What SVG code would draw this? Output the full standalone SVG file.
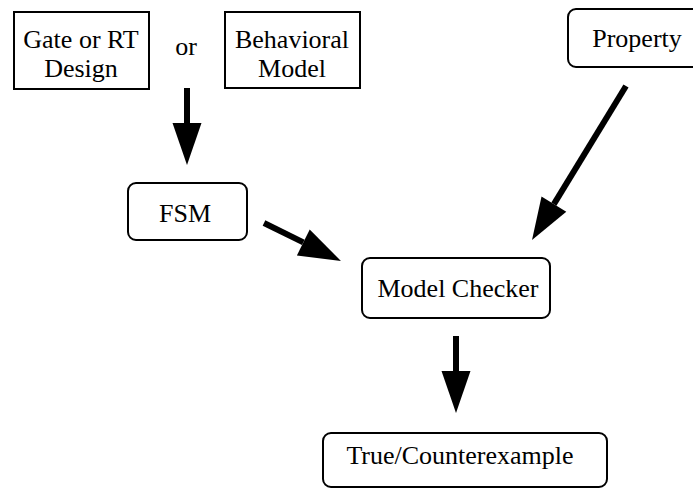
<svg xmlns="http://www.w3.org/2000/svg" width="693" height="489" viewBox="0 0 693 489">
  <style>
    .box { fill: #ffffff; stroke: #000000; stroke-width: 2; }
    .label { font-family: "Liberation Serif", "Times New Roman", serif; font-size: 26px; fill: #000000; text-anchor: middle; }
    .shaft { stroke: #000000; stroke-width: 6; fill: none; marker-end: url(#head); }
  </style>
  <defs>
    <marker id="head" markerUnits="userSpaceOnUse" markerWidth="42" markerHeight="29" refX="0" refY="14.5" orient="auto" overflow="visible">
      <path d="M0,0 L42,14.5 L0,29 Z" fill="#000000"/>
    </marker>
  </defs>
  <rect width="693" height="489" fill="#ffffff"/>

  <g id="gate-design">
    <rect class="box" x="14" y="12" width="135" height="77"/>
    <text class="label" x="81" y="48">Gate or RT</text>
    <text class="label" x="81" y="77">Design</text>
  </g>

  <g id="or-label">
    <text class="label" x="186" y="55">or</text>
  </g>

  <g id="behavioral-model">
    <rect class="box" x="225" y="12" width="135" height="76"/>
    <text class="label" x="292" y="48">Behavioral</text>
    <text class="label" x="292" y="77">Model</text>
  </g>

  <g id="property">
    <rect class="box" x="568" y="9" width="140" height="58" rx="8"/>
    <text class="label" x="637" y="47">Property</text>
  </g>

  <g id="fsm">
    <rect class="box" x="128" y="183" width="119" height="57" rx="8"/>
    <text class="label" x="185" y="222">FSM</text>
  </g>

  <g id="model-checker">
    <rect class="box" x="362" y="258" width="188" height="60" rx="8"/>
    <text class="label" x="458" y="297">Model Checker</text>
  </g>

  <g id="result">
    <rect class="box" x="323" y="433" width="284" height="54" rx="8"/>
    <text class="label" x="460" y="464">True/Counterexample</text>
  </g>

  <g id="connectors">
    <line class="shaft" x1="187" y1="88" x2="187" y2="123"/>
    <line class="shaft" x1="264" y1="223" x2="303.3" y2="242.4"/>
    <line class="shaft" x1="626" y1="86" x2="553.9" y2="204.1"/>
    <line class="shaft" x1="456" y1="336" x2="456" y2="371"/>
  </g>
</svg>
